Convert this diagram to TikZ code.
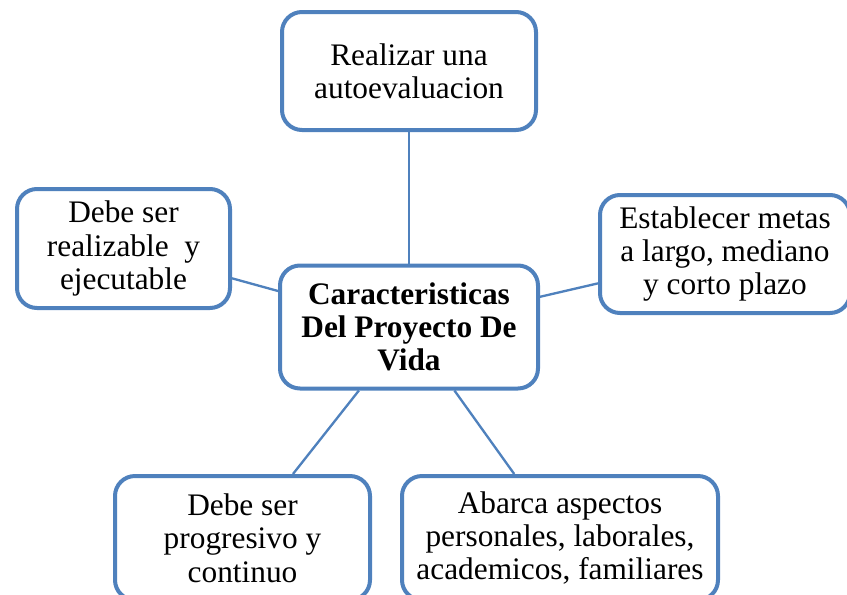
\documentclass[tikz,border=0pt]{standalone}
\usepackage{fontspec}
\setmainfont{Liberation Serif}
\definecolor{boxblue}{RGB}{79,129,189}
\begin{document}
\begin{tikzpicture}[x=0.75pt,y=-0.75pt,
  box/.style={draw=boxblue, line width=3pt, rounded corners=15pt, fill=white,
    align=center, inner sep=0pt, font=\fontsize{23.5pt}{25pt}\selectfont},
  link/.style={draw=boxblue, line width=1.75pt}]
\useasboundingbox (0,0) rectangle (847,594);
\clip (0,0) rectangle (847,594);
\node[box, minimum width=190.5pt, minimum height=88.5pt] (top) at (409,71) {Realizar una\\autoevaluacion};
\node[box, minimum width=159.75pt, minimum height=89.25pt] (left) at (123.5,248.5) {Debe ser\\realizable\ \ y\\ejecutable};
\node[box, minimum width=187.5pt, minimum height=88.5pt] (right) at (725,254) {Establecer metas\\a largo, mediano\\y corto plazo};
\node[box, minimum width=193.5pt, minimum height=92.25pt, font=\fontsize{23.5pt}{25pt}\selectfont\bfseries] (center) at (409,327) {Caracteristicas\\Del Proyecto De\\Vida};
\node[box, minimum width=191.25pt, minimum height=93pt] (bl) at (242.5,538) {Debe ser\\progresivo y\\continuo};
\node[box, minimum width=237pt, minimum height=93pt] (br) at (560,538) {Abarca aspectos\\personales, laborales,\\academicos, familiares};
\draw[link] (top) -- (center);
\draw[link] (left) -- (center);
\draw[link] (right) -- (center);
\draw[link] (bl) -- (center);
\draw[link] (br) -- (center);
\end{tikzpicture}
\end{document}
